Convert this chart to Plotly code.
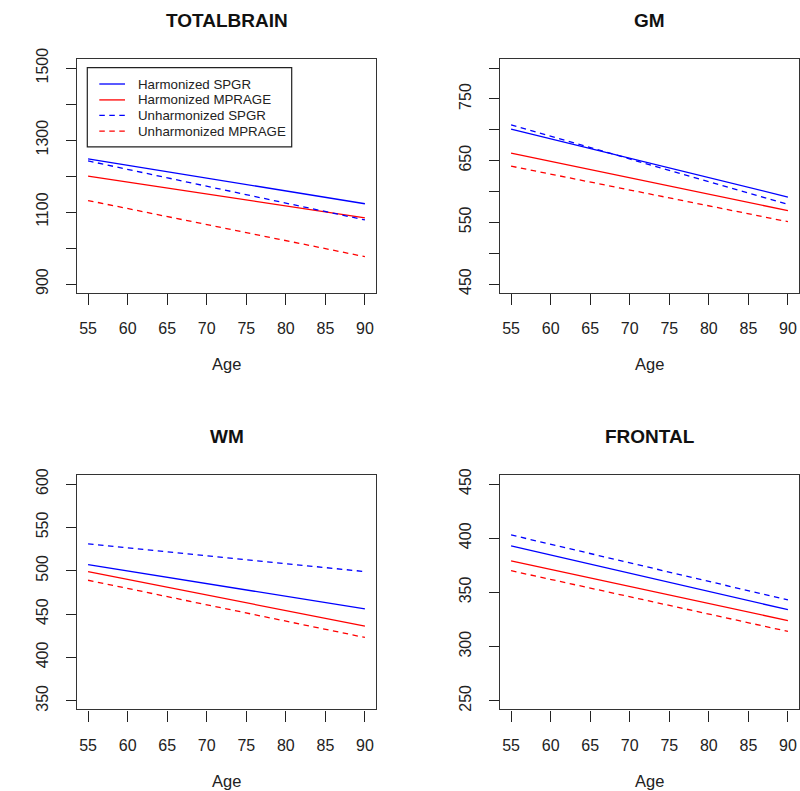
import plotly.graph_objects as go

# ---------------- data ----------------
ages = [55, 90]
panel_titles = ["TOTALBRAIN", "GM", "WM", "FRONTAL"]
series_names = ["Harmonized SPGR", "Harmonized MPRAGE", "Unharmonized SPGR", "Unharmonized MPRAGE"]

totalbrain_harm_spgr = [1248, 1123]
totalbrain_harm_mprage = [1200, 1084]
totalbrain_unharm_spgr = [1242, 1078]
totalbrain_unharm_mprage = [1132, 976]

gm_harm_spgr = [701, 591]
gm_harm_mprage = [662, 569]
gm_unharm_spgr = [708, 579]
gm_unharm_mprage = [641, 551]

wm_harm_spgr = [507, 456]
wm_harm_mprage = [499, 436]
wm_unharm_spgr = [531, 499]
wm_unharm_mprage = [489, 423]

frontal_harm_spgr = [393, 334]
frontal_harm_mprage = [379, 324]
frontal_unharm_spgr = [403, 343]
frontal_unharm_mprage = [370, 314]

x_ticks = [55, 60, 65, 70, 75, 80, 85, 90]
totalbrain_ticks = [900, 1000, 1100, 1200, 1300, 1400, 1500]
totalbrain_labels = ["900", "", "1100", "", "1300", "", "1500"]
gm_ticks = [450, 500, 550, 600, 650, 700, 750, 800]
gm_labels = ["450", "", "550", "", "650", "", "750", ""]
wm_ticks = [350, 400, 450, 500, 550, 600]
wm_labels = ["350", "400", "450", "500", "550", "600"]
frontal_ticks = [250, 300, 350, 400, 450]
frontal_labels = ["250", "300", "350", "400", "450"]

panels = [
    (totalbrain_harm_spgr, totalbrain_harm_mprage, totalbrain_unharm_spgr, totalbrain_unharm_mprage,
     totalbrain_ticks, totalbrain_labels),
    (gm_harm_spgr, gm_harm_mprage, gm_unharm_spgr, gm_unharm_mprage, gm_ticks, gm_labels),
    (wm_harm_spgr, wm_harm_mprage, wm_unharm_spgr, wm_unharm_mprage, wm_ticks, wm_labels),
    (frontal_harm_spgr, frontal_harm_mprage, frontal_unharm_spgr, frontal_unharm_mprage,
     frontal_ticks, frontal_labels),
]

# ---------------- styling / layout ----------------
W, H = 800, 791
FONT = "Liberation Sans, Arial, sans-serif"
BLUE = "#0000FF"
RED = "#FF0000"
DASH = "5.5px,4.5px"
styles = [(BLUE, "solid"), (RED, "solid"), (BLUE, DASH), (RED, DASH)]
TICK_SIZE = 16


def px(x):
    return x / W


def py(y):
    return 1 - y / H


# plot boxes in pixels: (left, right, top, bottom)
boxes = [(77, 376, 48.3, 285.7), (500, 799, 48.3, 285.7),
         (77, 376, 471.7, 710), (500, 799, 471.7, 710)]

fig = go.Figure()
layout = dict(
    width=W, height=H, margin=dict(l=0, r=0, t=0, b=0),
    paper_bgcolor="white", plot_bgcolor="white", showlegend=False,
    font=dict(family=FONT, color="#222", size=TICK_SIZE),
)

annotations = []
shapes = []

for i, (p, box) in enumerate(zip(panels, boxes)):
    n = i + 1
    xa = "x" if n == 1 else f"x{n}"
    ya = "y" if n == 1 else f"y{n}"
    *vals, yticks, ylabels = p
    for name, v, (c, d) in zip(series_names, vals, styles):
        fig.add_trace(go.Scatter(x=ages, y=v, mode="lines", name=name,
                                 line=dict(color=c, dash=d, width=1.3),
                                 xaxis=xa, yaxis=ya, showlegend=False))
    lo, hi = yticks[0], yticks[-1]
    ext = (hi - lo) * 0.04
    xext = (x_ticks[-1] - x_ticks[0]) * 0.04
    l, r, t, b = box
    layout["xaxis" if n == 1 else f"xaxis{n}"] = dict(
        domain=[px(l), px(r)], anchor=ya,
        range=[x_ticks[0] - xext, x_ticks[-1] + xext],
        tickmode="array", tickvals=x_ticks, ticktext=[str(t_) for t_ in x_ticks],
        ticks="outside", ticklen=11, tickwidth=1.2, tickcolor="#222",
        showline=True, linecolor="#333", linewidth=1.3, mirror=True,
        showgrid=False, zeroline=False, ticklabelstandoff=10,
        tickfont=dict(size=TICK_SIZE, color="#222", family=FONT),
    )
    layout["yaxis" if n == 1 else f"yaxis{n}"] = dict(
        domain=[py(b), py(t)], anchor=xa,
        range=[lo - ext, hi + ext],
        tickmode="array", tickvals=yticks, ticktext=ylabels, tickangle=-90,
        ticks="outside", ticklen=10, tickwidth=1.2, tickcolor="#222",
        showline=True, linecolor="#333", linewidth=1.3, mirror=True,
        showgrid=False, zeroline=False, ticklabelstandoff=11,
        tickfont=dict(size=TICK_SIZE, color="#222", family=FONT),
    )
    cx = (l + r) / 2
    annotations.append(dict(text=f"<b>{panel_titles[i]}</b>", x=px(cx), y=py(t - 40),
                            xref="paper", yref="paper", showarrow=False,
                            xanchor="center", yanchor="middle",
                            font=dict(size=19, color="#111", family=FONT)))
    annotations.append(dict(text="Age", x=px(cx), y=py(b + 73),
                            xref="paper", yref="paper", showarrow=False,
                            xanchor="center", yanchor="middle",
                            font=dict(size=16.5, color="#222", family=FONT)))

# legend inside first panel (drawn manually)
shapes.append(dict(type="rect", xref="paper", yref="paper",
                   x0=px(87.3), x1=px(291.7), y0=py(137.3), y1=py(56.7),
                   line=dict(color="#222", width=1.2), fillcolor="white", layer="above"))
rows = [73.3, 89.5, 105.3, 121.3]
for name, (c, d), yy in zip(series_names, styles, rows):
    shapes.append(dict(type="line", xref="paper", yref="paper",
                       x0=px(99.3), x1=px(125), y0=py(yy), y1=py(yy),
                       line=dict(color=c, dash=d, width=1.3),
                       layer="above"))
    annotations.append(dict(text=name, x=px(136), y=py(yy), xref="paper", yref="paper",
                            showarrow=False, xanchor="left", yanchor="middle",
                            font=dict(size=13.3, color="#222", family=FONT)))

layout["annotations"] = annotations
layout["shapes"] = shapes
fig.update_layout(**layout)
fig.write_html("out.html", config={"displayModeBar": False},
               post_script="document.body.style.margin='0';document.body.style.overflow='hidden';")
